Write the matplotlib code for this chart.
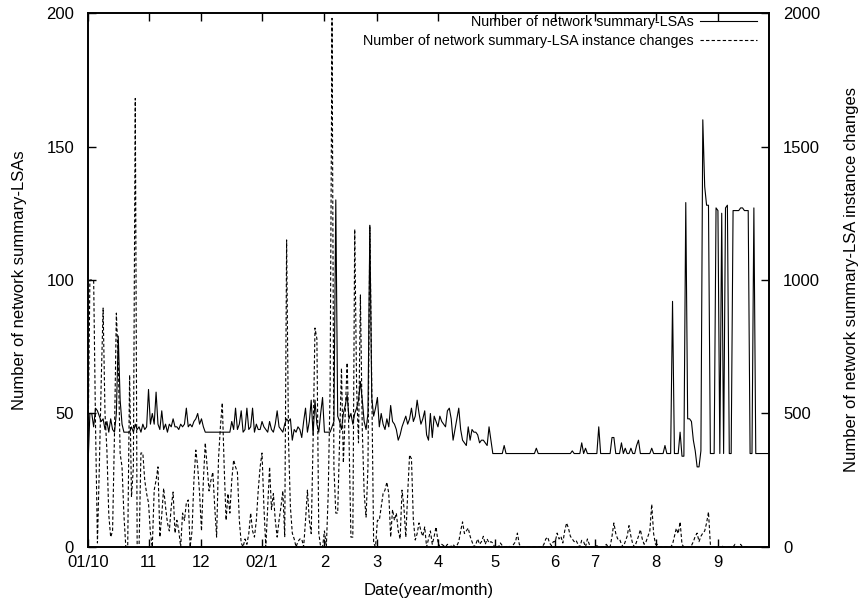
import matplotlib
matplotlib.use('Agg')
import matplotlib.pyplot as plt

plt.rcParams['font.family'] = ['Liberation Sans', 'DejaVu Sans']

# x ticks: month starts, in days since 2001/10/01 (as drawn on the original axis)
tick_days = [0, 32, 60, 92, 125, 153, 185, 215, 247, 268, 300, 333]
tick_labels = ['01/10', '11', '12', '02/1', '2', '3', '4', '5', '6', '7', '8', '9']

# number of network summary-LSAs, one value per day (left axis)
lsa_counts = [
    30, 50, 50, 45, 52, 51, 49, 47, 48, 44,
    47, 43, 48, 44, 43, 50, 79, 55, 46, 43,
    43, 43, 43, 45, 43, 46, 44, 45, 43, 46,
    44, 45, 59, 46, 50, 46, 58, 46, 44, 51,
    44, 46, 43, 46, 45, 48, 45, 45, 44, 46,
    45, 46, 52, 45, 46, 45, 47, 48, 50, 46,
    48, 45, 43, 43, 43, 43, 43, 43, 43, 43,
    43, 43, 43, 43, 43, 43, 47, 44, 52, 44,
    46, 51, 43, 44, 52, 44, 45, 52, 43, 46,
    44, 44, 47, 45, 44, 43, 47, 44, 43, 46,
    51, 45, 44, 43, 46, 48, 47, 48, 40, 44,
    43, 45, 44, 41, 47, 52, 43, 47, 55, 42,
    55, 46, 43, 50, 56, 43, 43, 43, 43, 45,
    47, 130, 49, 47, 44, 50, 53, 57, 48, 50,
    46, 50, 52, 55, 62, 55, 47, 44, 50, 120,
    56, 49, 52, 56, 45, 50, 46, 44, 48, 45,
    53, 47, 46, 44, 40, 42, 45, 47, 49, 46,
    48, 52, 47, 49, 55, 50, 46, 48, 51, 42,
    40, 50, 41, 49, 47, 45, 49, 47, 46, 45,
    51, 52, 48, 40, 44, 48, 52, 44, 40, 39,
    38, 45, 40, 44, 43, 43, 42, 39, 40, 40,
    39, 38, 45, 40, 35, 35, 35, 35, 35, 35,
    38, 35, 35, 35, 35, 35, 35, 35, 35, 35,
    35, 35, 35, 35, 35, 35, 35, 37, 35, 35,
    35, 35, 35, 35, 35, 35, 35, 35, 35, 35,
    35, 35, 35, 35, 35, 35, 36, 35, 35, 35,
    35, 39, 35, 37, 35, 35, 35, 35, 35, 35,
    45, 35, 35, 35, 35, 35, 35, 41, 41, 35,
    35, 35, 39, 35, 37, 35, 35, 37, 35, 35,
    38, 40, 35, 35, 35, 35, 35, 35, 37, 35,
    35, 35, 35, 35, 35, 38, 35, 35, 35, 92,
    35, 35, 35, 43, 34, 34, 129, 48, 48, 47,
    40, 36, 30, 30, 36, 160, 135, 128, 128, 35,
    35, 35, 127, 126, 35, 125, 35, 127, 128, 35,
    35, 126, 126, 126, 126, 127, 127, 126, 126, 126,
    35, 35, 127, 35, 35, 35, 35, 35, 35, 35,
    35,
]
days_lsa = list(range(len(lsa_counts)))

# number of network summary-LSA instance changes per day (right axis)
change_counts = [
    350, 1000, 1000, 1000, 450, 15, 300, 620, 895, 500,
    363, 120, 37, 60, 420, 876, 700, 350, 300, 120,
    0, 0, 644, 187, 300, 1680, 0, 0, 352, 352,
    250, 200, 165, 52, 0, 213, 250, 300, 37, 120,
    220, 150, 90, 60, 150, 206, 52, 100, 60, 0,
    127, 100, 165, 176, 0, 60, 250, 363, 300, 200,
    60, 250, 390, 300, 210, 250, 280, 150, 37, 330,
    450, 540, 300, 100, 200, 127, 250, 326, 300, 280,
    100, 15, 0, 30, 10, 50, 127, 60, 37, 100,
    213, 300, 352, 150, 0, 150, 300, 140, 200, 100,
    37, 100, 150, 210, 37, 1150, 400, 150, 52, 30,
    0, 20, 30, 30, 0, 100, 213, 100, 50, 400,
    820, 780, 52, 0, 0, 60, 0, 200, 600, 1980,
    300, 127, 127, 400, 670, 315, 500, 690, 400, 37,
    37, 1190, 600, 390, 944, 440, 200, 112, 300, 1205,
    600, 15, 0, 100, 100, 150, 200, 213, 243, 200,
    37, 140, 100, 127, 60, 30, 213, 150, 37, 200,
    345, 330, 100, 26, 50, 90, 60, 40, 75, 0,
    30, 60, 10, 40, 75, 20, 0, 10, 5, 0,
    10, 5, 0, 10, 0, 5, 20, 60, 94, 50,
    60, 71, 40, 20, 0, 10, 30, 10, 20, 40,
    10, 30, 15, 20, 15, 0, 5, 0, 15, 5,
    0, 0, 5, 0, 0, 10, 20, 52, 10, 0,
    0, 0, 0, 0, 0, 0, 0, 0, 0, 0,
    0, 10, 30, 37, 15, 5, 20, 20, 52, 30,
    40, 15, 60, 90, 70, 40, 30, 20, 25, 10,
    0, 25, 20, 0, 30, 10, 0, 0, 0, 5,
    0, 0, 0, 0, 10, 0, 0, 40, 90, 50,
    30, 30, 10, 0, 20, 40, 80, 40, 10, 0,
    20, 40, 65, 30, 10, 20, 40, 60, 160, 50,
    10, 10, 0, 0, 0, 0, 0, 0, 0, 10,
    40, 70, 50, 94, 10, 0, 0, 0, 0, 5,
    20, 40, 52, 20, 40, 52, 60, 90, 131, 10,
    0, 0, 0, 0, 0, 5, 0, 0, 0, 0,
    0, 0, 10, 0, 0, 10, 0, 0, 0, 0,
]
days_chg = list(range(len(change_counts)))

fig = plt.figure(figsize=(8.6, 6.05), dpi=100)
ax = fig.add_axes([0.1023, 0.0959, 0.7919, 0.8826])
ax2 = ax.twinx()

l1, = ax.plot(days_lsa, lsa_counts, color='black', lw=0.8)
l2, = ax2.plot(days_chg, change_counts, color='black', lw=0.8, linestyle=(0, (3, 2)))

ax.set_xlim(0, 360)
ax.set_ylim(0, 200)
ax2.set_ylim(0, 2000)
ax.set_yticks([0, 50, 100, 150, 200])
ax2.set_yticks([0, 500, 1000, 1500, 2000])
ax.set_xticks(tick_days, tick_labels)

fs = 12
ax.tick_params(axis='x', direction='in', top=True, length=6, width=1, labelsize=fs, pad=6)
ax.tick_params(axis='y', direction='in', right=False, length=6, width=1, labelsize=fs, pad=10)
ax2.tick_params(axis='y', direction='in', left=False, length=6, width=1, labelsize=fs, pad=10)

for a in (ax, ax2):
    for s in a.spines.values():
        s.set_linewidth(1.2)

ax.set_xlabel('Date(year/month)', fontsize=fs, labelpad=9)
ax.set_ylabel('Number of network summary-LSAs', fontsize=fs, labelpad=14)
ax2.set_ylabel('Number of network summary-LSA instance changes', fontsize=fs, labelpad=17)

ax2.legend([l1, l2],
           ['Number of network summary-LSAs',
            'Number of network summary-LSA instance changes'],
           loc='upper right', bbox_to_anchor=(0.986, 1.0), frameon=False,
           fontsize=10.25, markerfirst=False,
           handlelength=4, handletextpad=0.5, labelspacing=0.35,
           borderaxespad=0.05, borderpad=0.1)

fig.savefig('out.png', dpi=100)
